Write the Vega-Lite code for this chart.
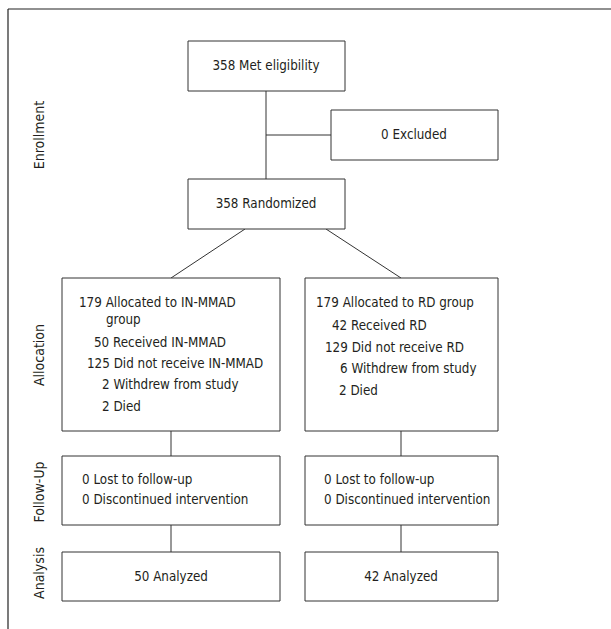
{
  "$schema": "https://vega.github.io/schema/vega-lite/v6.json",
  "width": 611,
  "height": 629,
  "autosize": {"type": "none"},
  "padding": 0,
  "background": "white",
  "config": {"view": {"stroke": null}},
  "datasets": {
    "boxes": [
      {"id": "eligible", "x0": 188, "x1": 345, "y0": 41, "y1": 91},
      {"id": "excluded", "x0": 331, "x1": 498, "y0": 110, "y1": 160},
      {"id": "randomized", "x0": 188, "x1": 345, "y0": 179, "y1": 229},
      {"id": "alloc_left", "x0": 62, "x1": 280, "y0": 278, "y1": 431},
      {"id": "alloc_right", "x0": 305, "x1": 498, "y0": 278, "y1": 431},
      {"id": "follow_left", "x0": 62, "x1": 280, "y0": 456, "y1": 525},
      {"id": "follow_right", "x0": 305, "x1": 498, "y0": 456, "y1": 525},
      {"id": "analysis_left", "x0": 62, "x1": 280, "y0": 552, "y1": 601},
      {"id": "analysis_right", "x0": 305, "x1": 498, "y0": 552, "y1": 601}
    ],
    "links": [
      {"x0": 266, "y0": 91, "x1": 266, "y1": 179},
      {"x0": 266, "y0": 135, "x1": 331, "y1": 135},
      {"x0": 245, "y0": 229, "x1": 171, "y1": 278},
      {"x0": 326, "y0": 229, "x1": 401, "y1": 278},
      {"x0": 171, "y0": 431, "x1": 171, "y1": 456},
      {"x0": 401, "y0": 431, "x1": 401, "y1": 456},
      {"x0": 171, "y0": 525, "x1": 171, "y1": 552},
      {"x0": 401, "y0": 525, "x1": 401, "y1": 552}
    ],
    "frame": [
      {"x0": 8, "y0": 9, "x1": 611, "y1": 9},
      {"x0": 8, "y0": 9, "x1": 8, "y1": 629}
    ],
    "centered": [
      {"label": "358 Met eligibility", "x": 266, "y": 66},
      {"label": "0 Excluded", "x": 414, "y": 135},
      {"label": "358 Randomized", "x": 266, "y": 204},
      {"label": "50 Analyzed", "x": 171, "y": 577},
      {"label": "42 Analyzed", "x": 401, "y": 577}
    ],
    "lefttext": [
      {"label": "179 Allocated to IN-MMAD", "x": 79, "y": 303},
      {"label": "group", "x": 106, "y": 320},
      {"label": "50 Received IN-MMAD", "x": 94, "y": 343},
      {"label": "125 Did not receive IN-MMAD", "x": 87, "y": 364},
      {"label": "2 Withdrew from study", "x": 102, "y": 385},
      {"label": "2 Died", "x": 102, "y": 407},
      {"label": "179 Allocated to RD group", "x": 316, "y": 303},
      {"label": "42 Received RD", "x": 332, "y": 326},
      {"label": "129 Did not receive RD", "x": 325, "y": 348},
      {"label": "6 Withdrew from study", "x": 340, "y": 369},
      {"label": "2 Died", "x": 339, "y": 391},
      {"label": "0 Lost to follow-up", "x": 82, "y": 480},
      {"label": "0 Discontinued intervention", "x": 82, "y": 500},
      {"label": "0 Lost to follow-up", "x": 324, "y": 480},
      {"label": "0 Discontinued intervention", "x": 324, "y": 500}
    ],
    "stages": [
      {"label": "Enrollment", "x": 40, "y": 135},
      {"label": "Allocation", "x": 40, "y": 355},
      {"label": "Follow-Up", "x": 40, "y": 492},
      {"label": "Analysis", "x": 40, "y": 573}
    ]
  },
  "layer": [
    {
      "data": {"name": "frame"},
      "mark": {"type": "rule", "color": "#222222", "strokeWidth": 1.2},
      "encoding": {
        "x": {"field": "x0", "type": "quantitative", "scale": {"domain": [0, 611], "nice": false, "zero": false}, "axis": null},
        "x2": {"field": "x1"},
        "y": {"field": "y0", "type": "quantitative", "scale": {"domain": [0, 629], "nice": false, "zero": false, "reverse": true}, "axis": null},
        "y2": {"field": "y1"}
      }
    },
    {
      "data": {"name": "links"},
      "mark": {"type": "rule", "color": "#333333", "strokeWidth": 1},
      "encoding": {
        "x": {"field": "x0", "type": "quantitative"},
        "x2": {"field": "x1"},
        "y": {"field": "y0", "type": "quantitative"},
        "y2": {"field": "y1"}
      }
    },
    {
      "data": {"name": "boxes"},
      "mark": {"type": "rect", "fill": "white", "stroke": "#333333", "strokeWidth": 1},
      "encoding": {
        "x": {"field": "x0", "type": "quantitative"},
        "x2": {"field": "x1"},
        "y": {"field": "y0", "type": "quantitative"},
        "y2": {"field": "y1"}
      }
    },
    {
      "data": {"name": "centered"},
      "mark": {"type": "text", "align": "center", "baseline": "middle", "font": "DejaVu Sans Condensed, sans-serif", "fontSize": 13.3, "color": "#231f20"},
      "encoding": {
        "x": {"field": "x", "type": "quantitative"},
        "y": {"field": "y", "type": "quantitative"},
        "text": {"field": "label"}
      }
    },
    {
      "data": {"name": "lefttext"},
      "mark": {"type": "text", "align": "left", "baseline": "middle", "font": "DejaVu Sans Condensed, sans-serif", "fontSize": 13.3, "color": "#231f20"},
      "encoding": {
        "x": {"field": "x", "type": "quantitative"},
        "y": {"field": "y", "type": "quantitative"},
        "text": {"field": "label"}
      }
    },
    {
      "data": {"name": "stages"},
      "mark": {"type": "text", "align": "center", "baseline": "middle", "angle": 270, "font": "DejaVu Sans Condensed, sans-serif", "fontSize": 14, "color": "#231f20"},
      "encoding": {
        "x": {"field": "x", "type": "quantitative"},
        "y": {"field": "y", "type": "quantitative"},
        "text": {"field": "label"}
      }
    }
  ]
}
